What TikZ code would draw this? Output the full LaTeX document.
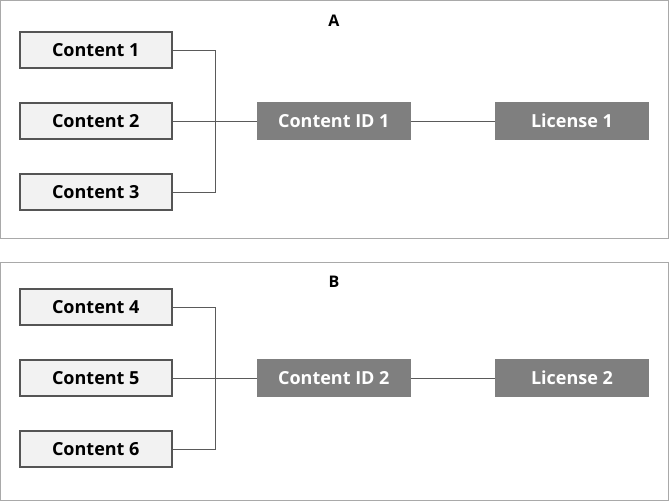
\documentclass[tikz,border=0pt]{standalone}
\usepackage{fontspec}
\setmainfont{Open Sans}
\definecolor{panelgray}{HTML}{A9A9A9}
\definecolor{boxborder}{HTML}{555555}
\definecolor{boxfill}{HTML}{F2F2F2}
\definecolor{darkfill}{HTML}{7F7F7F}
\definecolor{linegray}{HTML}{5A5A5A}
\begin{document}
\begin{tikzpicture}[x=1pt,y=-1pt,
  panel/.style={draw=panelgray,line width=1pt},
  contentbox/.style={draw=boxborder,fill=boxfill,line width=2pt,minimum width=152.5pt,minimum height=36pt,inner sep=0pt,font=\fontsize{18}{20}\selectfont\bfseries},
  darkbox/.style={fill=darkfill,text=white,minimum width=154pt,minimum height=38pt,inner sep=0pt,font=\fontsize{18}{20}\selectfont\bfseries},
  title/.style={font=\fontsize{16}{18}\selectfont\bfseries,inner sep=0pt},
  conn/.style={draw=linegray,line width=1pt}]
\useasboundingbox (0,0) rectangle (669,501);
\fill[white] (0,0) rectangle (669,501);
\draw[panel] (0.5,0.5) rectangle (668,238);
\draw[panel] (0.5,262) rectangle (668,500.5);
% Panel A
\node[title] (tA) at (334,21) {A};
\node[contentbox] (c1) at (95.75,50) {Content 1};
\node[contentbox] (c2) at (95.75,121) {Content 2};
\node[contentbox] (c3) at (95.75,192) {Content 3};
\node[darkbox] (id1) at (333.8,121) {Content ID 1};
\node[darkbox] (l1) at (572,121) {License 1};
\coordinate (jA) at (215.7,121);
\draw[conn] (c1.east) -| (jA) |- (c3.east);
\draw[conn] (c2.east) -- (id1.west);
\draw[conn] (id1.east) -- (l1.west);
% Panel B
\node[title] (tB) at (334,282) {B};
\node[contentbox] (c4) at (95.75,307) {Content 4};
\node[contentbox] (c5) at (95.75,378) {Content 5};
\node[contentbox] (c6) at (95.75,449) {Content 6};
\node[darkbox] (id2) at (333.8,378) {Content ID 2};
\node[darkbox] (l2) at (572,378) {License 2};
\coordinate (jB) at (215.7,378);
\draw[conn] (c4.east) -| (jB) |- (c6.east);
\draw[conn] (c5.east) -- (id2.west);
\draw[conn] (id2.east) -- (l2.west);
\end{tikzpicture}
\end{document}
